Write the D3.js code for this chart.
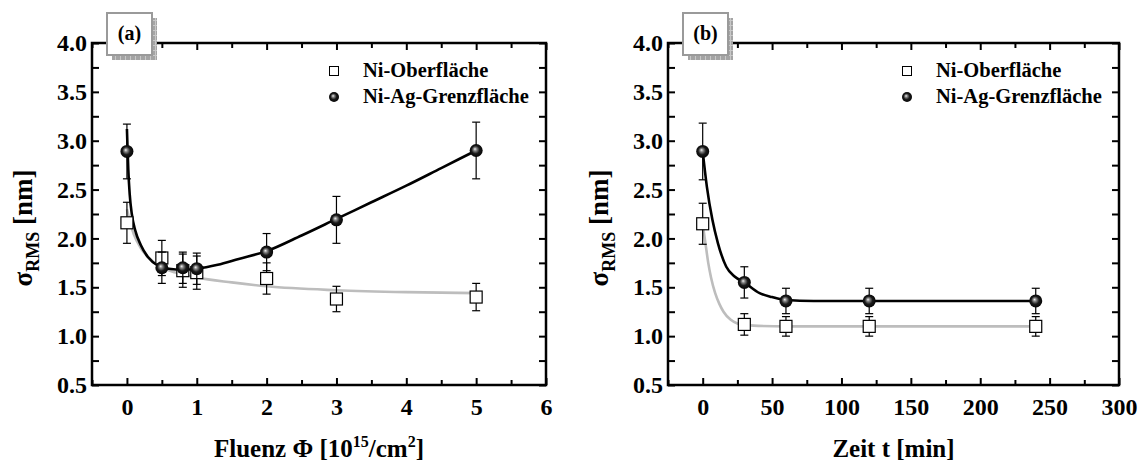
<!DOCTYPE html>
<meta charset="utf-8">
<script src="https://d3js.org/d3.v7.min.js"></script>
<style>
  body { margin: 0; background: #fff; }
  text { font-family: "Liberation Serif", "Times New Roman", serif; font-weight: bold; fill: #000; }
</style>
<div id="chart"></div>
<script>
// ---- data ----
// panel (a): fluence in 10^15/cm^2
var fluenz = [0, 0.5, 0.8, 1, 2, 3, 5];
var niOberA = [2.16, 1.80, 1.67, 1.65, 1.59, 1.38, 1.40];
var niOberAErr = [0.21, 0.18, 0.17, 0.17, 0.16, 0.13, 0.14];
var niAgA = [2.89, 1.70, 1.70, 1.69, 1.86, 2.19, 2.90];
var niAgAErr = [0.28, 0.16, 0.16, 0.16, 0.19, 0.24, 0.29];
// fit curves of panel (a)
var fitAgAx = [0, 0.01, 0.02, 0.04, 0.07, 0.12, 0.2, 0.3, 0.45, 0.6, 0.8, 1.0, 1.3, 1.6, 2.0, 2.5, 3.0, 3.5, 4.0, 4.5, 5.0];
var fitAgAy = [3.12, 2.9, 2.7, 2.45, 2.25, 2.08, 1.93, 1.81, 1.72, 1.69, 1.68, 1.69, 1.73, 1.79, 1.87, 2.03, 2.2, 2.37, 2.54, 2.72, 2.9];
var fitOberAx = [0, 0.05, 0.1, 0.2, 0.3, 0.45, 0.7, 1.0, 1.5, 2.0, 3.0, 4.0, 5.0];
var fitOberAy = [2.3, 2.15, 2.04, 1.9, 1.81, 1.72, 1.65, 1.6, 1.55, 1.51, 1.47, 1.45, 1.44];

// panel (b): annealing time in min
var zeit = [0, 30, 60, 120, 240];
var niOberB = [2.15, 1.12, 1.10, 1.10, 1.10];
var niOberBErr = [0.21, 0.11, 0.10, 0.10, 0.10];
var niAgB = [2.89, 1.55, 1.36, 1.36, 1.36];
var niAgBErr = [0.29, 0.16, 0.13, 0.13, 0.13];
var fitAgBx = [0, 3, 7, 11, 17, 23, 30, 41, 50, 60, 80, 120, 240];
var fitAgBy = [2.89, 2.53, 2.19, 1.95, 1.71, 1.61, 1.55, 1.44, 1.40, 1.37, 1.36, 1.36, 1.36];
var fitOberBx = [0, 2, 4, 6, 9, 12, 15, 20, 25, 30, 40, 60, 240];
var fitOberBy = [2.15, 1.95, 1.75, 1.6, 1.44, 1.33, 1.25, 1.17, 1.13, 1.115, 1.105, 1.10, 1.10];

var legendLabels = ["Ni-Oberfläche", "Ni-Ag-Grenzfläche"];
var yMajor = [0.5, 1.0, 1.5, 2.0, 2.5, 3.0, 3.5, 4.0];
var yMinor = [0.75, 1.25, 1.75, 2.25, 2.75, 3.25, 3.75];

var W = 1145, H = 463;
var svg = d3.select("#chart").append("svg")
  .attr("width", W).attr("height", H);

var defs = svg.append("defs");
// shaded sphere marker
var grad = defs.append("radialGradient").attr("id", "sphere")
  .attr("cx", "0.5").attr("cy", "0.5").attr("r", "0.55")
  .attr("fx", "0.4").attr("fy", "0.38");
grad.append("stop").attr("offset", "0").attr("stop-color", "#f4f4f4");
grad.append("stop").attr("offset", "0.22").attr("stop-color", "#8a8a8a");
grad.append("stop").attr("offset", "0.55").attr("stop-color", "#1a1a1a");
grad.append("stop").attr("offset", "1").attr("stop-color", "#000");
// hatched shadow of the label box
var pat = defs.append("pattern").attr("id", "hatch")
  .attr("width", 5).attr("height", 5).attr("patternUnits", "userSpaceOnUse");
pat.append("rect").attr("width", 5).attr("height", 5).attr("fill", "#a4a4a4");
pat.append("path").attr("d", "M0,0.5H5M0.5,0V5").attr("stroke", "#c8c8c8").attr("stroke-width", 1);

function drawPanel(o) {
  var x = d3.scaleLinear().domain(o.xDomain).range([o.left, o.right]);
  var y = d3.scaleLinear().domain([0.5, 4.0]).range([385, 43]);
  var g = svg.append("g");

  // ticks (inward on all four sides)
  g.append("g").attr("transform", "translate(0,385)")
    .call(d3.axisBottom(x).tickValues(o.xMajor).tickSize(-7).tickPadding(13).tickFormat(d3.format("d")))
    .call(s => s.selectAll("text").style("font-size", "24px"));
  g.append("g").attr("transform", "translate(0,385)")
    .call(d3.axisBottom(x).tickValues(o.xMinor).tickSize(-5).tickFormat(""));
  g.append("g").attr("transform", "translate(0,43)")
    .call(d3.axisTop(x).tickValues(o.xMajor).tickSize(-7).tickFormat(""));
  g.append("g").attr("transform", "translate(0,43)")
    .call(d3.axisTop(x).tickValues(o.xMinor).tickSize(-5).tickFormat(""));
  g.append("g").attr("transform", "translate(" + o.left + ",0)")
    .call(d3.axisLeft(y).tickValues(yMajor).tickSize(-7).tickPadding(5).tickFormat(d3.format(".1f")))
    .call(s => s.selectAll("text").style("font-size", "24px"));
  g.append("g").attr("transform", "translate(" + o.left + ",0)")
    .call(d3.axisLeft(y).tickValues(yMinor).tickSize(-7).tickFormat(""));
  g.append("g").attr("transform", "translate(" + o.right + ",0)")
    .call(d3.axisRight(y).tickValues(yMajor.concat(yMinor)).tickSize(-7).tickFormat(""));
  g.selectAll(".domain").remove();
  g.selectAll(".tick line").attr("stroke", "#000").attr("stroke-width", 2);

  // frame
  g.append("rect").attr("x", o.left).attr("y", 43)
    .attr("width", o.right - o.left).attr("height", 385 - 43)
    .attr("fill", "none").attr("stroke", "#000").attr("stroke-width", 2.5);

  // fit curves
  var line = d3.line().curve(d3.curveMonotoneX)
    .x(d => x(d[0])).y(d => y(d[1]));
  g.append("path").datum(d3.zip(o.fitOberX, o.fitOberY)).attr("d", line)
    .attr("fill", "none").attr("stroke", "#bdbdbd").attr("stroke-width", 2.6);
  g.append("path").datum(d3.zip(o.fitAgX, o.fitAgY)).attr("d", line)
    .attr("fill", "none").attr("stroke", "#000").attr("stroke-width", 2.6);

  function errBars(xs, ys, es) {
    var eb = g.append("g").selectAll("g").data(d3.zip(xs, ys, es)).enter().append("g")
      .attr("stroke", "#000").attr("stroke-width", 1.2);
    eb.append("line").attr("x1", d => x(d[0])).attr("x2", d => x(d[0]))
      .attr("y1", d => y(d[1] + d[2])).attr("y2", d => y(d[1] - d[2]));
    eb.append("line").attr("x1", d => x(d[0]) - 4).attr("x2", d => x(d[0]) + 4)
      .attr("y1", d => y(d[1] + d[2])).attr("y2", d => y(d[1] + d[2]));
    eb.append("line").attr("x1", d => x(d[0]) - 4).attr("x2", d => x(d[0]) + 4)
      .attr("y1", d => y(d[1] - d[2])).attr("y2", d => y(d[1] - d[2]));
  }

  // squares
  errBars(o.xs, o.ober, o.oberErr);
  g.append("g").selectAll("rect").data(d3.zip(o.xs, o.ober)).enter().append("rect")
    .attr("x", d => x(d[0]) - 6).attr("y", d => y(d[1]) - 6)
    .attr("width", 12).attr("height", 12)
    .attr("fill", "#fff").attr("stroke", "#000").attr("stroke-width", 1.2);

  // spheres
  errBars(o.xs, o.ag, o.agErr);
  g.append("g").selectAll("circle").data(d3.zip(o.xs, o.ag)).enter().append("circle")
    .attr("cx", d => x(d[0])).attr("cy", d => y(d[1])).attr("r", 6.5)
    .attr("fill", "url(#sphere)");

  // legend
  var lg = g.append("g");
  lg.append("rect").attr("x", o.legX - 4.5).attr("y", 66.5).attr("width", 9).attr("height", 9)
    .attr("fill", "#fff").attr("stroke", "#000").attr("stroke-width", 1);
  lg.append("circle").attr("cx", o.legX).attr("cy", 97).attr("r", 5).attr("fill", "url(#sphere)");
  lg.selectAll("text").data(legendLabels).enter().append("text")
    .attr("x", o.legX + 29).attr("y", (d, i) => 77 + i * 26)
    .style("font-size", "20.5px").text(d => d);

  // panel label box
  var bx = o.left + 15;
  g.append("rect").attr("x", bx + 5).attr("y", 18).attr("width", 45).attr("height", 42)
    .attr("fill", "url(#hatch)");
  g.append("rect").attr("x", bx).attr("y", 13).attr("width", 45).attr("height", 42)
    .attr("fill", "#fff").attr("stroke", "#9a9a9a").attr("stroke-width", 2);
  g.append("text").attr("x", bx + 22.5).attr("y", 40).attr("text-anchor", "middle")
    .style("font-size", "20px").text(o.tag);

  // y title
  var yt = g.append("text")
    .attr("transform", "translate(" + (o.left - 60) + ",228) rotate(-90)")
    .attr("text-anchor", "middle").style("font-size", "27px");
  yt.append("tspan").text("σ");
  yt.append("tspan").attr("dy", 7).style("font-size", "18px").text("RMS");
  yt.append("tspan").attr("dy", -7).text(" [nm]");

  // x title
  var xt = g.append("text")
    .attr("x", (o.left + o.right) / 2).attr("y", 457)
    .attr("text-anchor", "middle").style("font-size", "25px");
  o.xTitle(xt);
}

drawPanel({
  xDomain: [-0.5, 6], left: 92, right: 546,
  xMajor: [0, 1, 2, 3, 4, 5, 6], xMinor: [-0.5, 0.5, 1.5, 2.5, 3.5, 4.5, 5.5],
  xs: fluenz, ober: niOberA, oberErr: niOberAErr, ag: niAgA, agErr: niAgAErr,
  fitAgX: fitAgAx, fitAgY: fitAgAy, fitOberX: fitOberAx, fitOberY: fitOberAy,
  legX: 334, tag: "(a)",
  xTitle: function (t) {
    t.append("tspan").text("Fluenz Φ [10");
    t.append("tspan").attr("dy", -10).style("font-size", "16px").text("15");
    t.append("tspan").attr("dy", 10).text("/cm");
    t.append("tspan").attr("dy", -10).style("font-size", "16px").text("2");
    t.append("tspan").attr("dy", 10).text("]");
  }
});

drawPanel({
  xDomain: [-25, 300], left: 668, right: 1119,
  xMajor: [0, 50, 100, 150, 200, 250, 300], xMinor: [-25, 25, 75, 125, 175, 225, 275],
  xs: zeit, ober: niOberB, oberErr: niOberBErr, ag: niAgB, agErr: niAgBErr,
  fitAgX: fitAgBx, fitAgY: fitAgBy, fitOberX: fitOberBx, fitOberY: fitOberBy,
  legX: 907, tag: "(b)",
  xTitle: function (t) { t.text("Zeit t [min]"); }
});
</script>
